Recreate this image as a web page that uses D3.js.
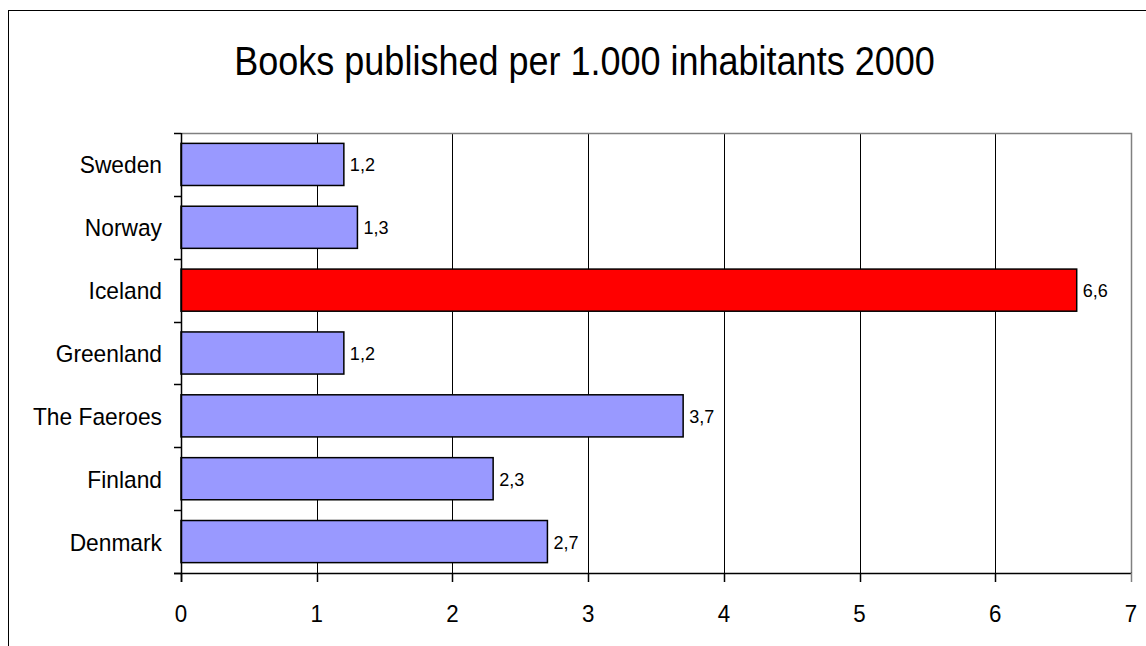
<!DOCTYPE html>
<html><head><meta charset="utf-8">
<script src="https://cdn.jsdelivr.net/npm/d3@7"></script>
<style>html,body{margin:0;padding:0;background:#fff;}svg{display:block;font-family:"Liberation Sans",Arial,sans-serif;}</style>
</head><body>
<script>
const categories = ["Sweden","Norway","Iceland","Greenland","The Faeroes","Finland","Denmark"];
const values = [1.2,1.3,6.6,1.2,3.7,2.3,2.7];
const valueLabels = ["1,2","1,3","6,6","1,2","3,7","2,3","2,7"];
const highlight = "Iceland";
const xTicks = [0,1,2,3,4,5,6,7];
const title = "Books published per 1.000 inhabitants 2000";

const W = 1146, H = 646;
const svg = d3.select("body").append("svg").attr("width", W).attr("height", H);
svg.append("rect").attr("width", W).attr("height", H).attr("fill", "#fff");
// outer border (cropped at right/bottom)
svg.append("rect").attr("x", 8.5).attr("y", 10.5).attr("width", W).attr("height", H)
  .attr("fill", "none").attr("stroke", "#000").attr("stroke-width", 1);

const L = 181, R = 1131, T = 133, B = 573;
const x = d3.scaleLinear().domain([0, 7]).range([L, R]);
const y = d3.scaleBand().domain(categories).range([T, B]).paddingInner(0.33).paddingOuter(0.165);

// horizontally condensed text helper
function ctext(sel, px, py, sx) {
  return sel.attr("x", 0).attr("y", 0)
    .attr("transform", (d, i) => `translate(${typeof px === "function" ? px(d, i) : px},${typeof py === "function" ? py(d, i) : py}) scale(${sx},1)`);
}

ctext(svg.append("text"), 584.5, 75, 0.9).attr("text-anchor", "middle")
  .attr("font-size", 40).attr("fill", "#000").text(title);

// gridlines
svg.append("g").selectAll("line").data(xTicks.filter(d => d > 0 && d < 7)).join("line")
  .attr("x1", d => Math.round(x(d)) + 0.5).attr("x2", d => Math.round(x(d)) + 0.5)
  .attr("y1", T).attr("y2", B).attr("stroke", "#000").attr("stroke-width", 1);
// plot frame top/right gray
svg.append("path").attr("d", `M${L},${T + 0.5}H${R + 0.5}V${B}`)
  .attr("fill", "none").attr("stroke", "#808080").attr("stroke-width", 1.5);

// bars
svg.append("g").selectAll("rect").data(categories).join("rect")
  .attr("x", x(0)).attr("y", d => y(d)).attr("height", y.bandwidth())
  .attr("width", (d, i) => x(values[i]) - x(0))
  .attr("fill", d => d === highlight ? "#FF0000" : "#9999FF")
  .attr("stroke", "#000").attr("stroke-width", 1.5);

// value labels
ctext(svg.append("g").selectAll("text").data(categories).join("text"),
  (d, i) => x(values[i]) + 6, d => y(d) + y.bandwidth() / 2 + 7, 0.95)
  .attr("font-size", 19).attr("fill", "#000").text((d, i) => valueLabels[i]);

// left axis
const yEdges = d3.range(categories.length + 1).map(i => T + i * y.step() / 1 - (i === 0 ? 0 : 0) + (y.step() * y.paddingOuter() - y.step() * y.paddingOuter()));
const edges = categories.map(c => y(c) - y.step() * y.paddingInner() / 2 - (y.step() * y.paddingOuter() - y.step() * y.paddingInner() / 2)).concat([B]);
svg.append("line").attr("x1", L + 0.5).attr("x2", L + 0.5).attr("y1", T).attr("y2", B + 9)
  .attr("stroke", "#000").attr("stroke-width", 1.5);
svg.append("g").selectAll("line").data(edges).join("line")
  .attr("x1", L - 7).attr("x2", L).attr("y1", d => Math.round(d) + 0.5).attr("y2", d => Math.round(d) + 0.5)
  .attr("stroke", "#000").attr("stroke-width", 1.5);
ctext(svg.append("g").selectAll("text").data(categories).join("text"),
  L - 19, d => y(d) + y.bandwidth() / 2 + 9, 0.93)
  .attr("text-anchor", "end").attr("font-size", 24.5).attr("fill", "#000").text(d => d);

// bottom axis
svg.append("line").attr("x1", L - 7).attr("x2", R + 1).attr("y1", B + 0.5).attr("y2", B + 0.5)
  .attr("stroke", "#000").attr("stroke-width", 1.5);
svg.append("g").selectAll("line").data(xTicks).join("line")
  .attr("x1", d => Math.round(x(d)) + 0.5).attr("x2", d => Math.round(x(d)) + 0.5)
  .attr("y1", B).attr("y2", B + 9).attr("stroke", d => d === 7 ? "#808080" : "#000").attr("stroke-width", 1.5);
ctext(svg.append("g").selectAll("text").data(xTicks).join("text"), d => x(d), 622, 0.93)
  .attr("text-anchor", "middle").attr("font-size", 24).attr("fill", "#000").text(d => d);
</script>
</body></html>
